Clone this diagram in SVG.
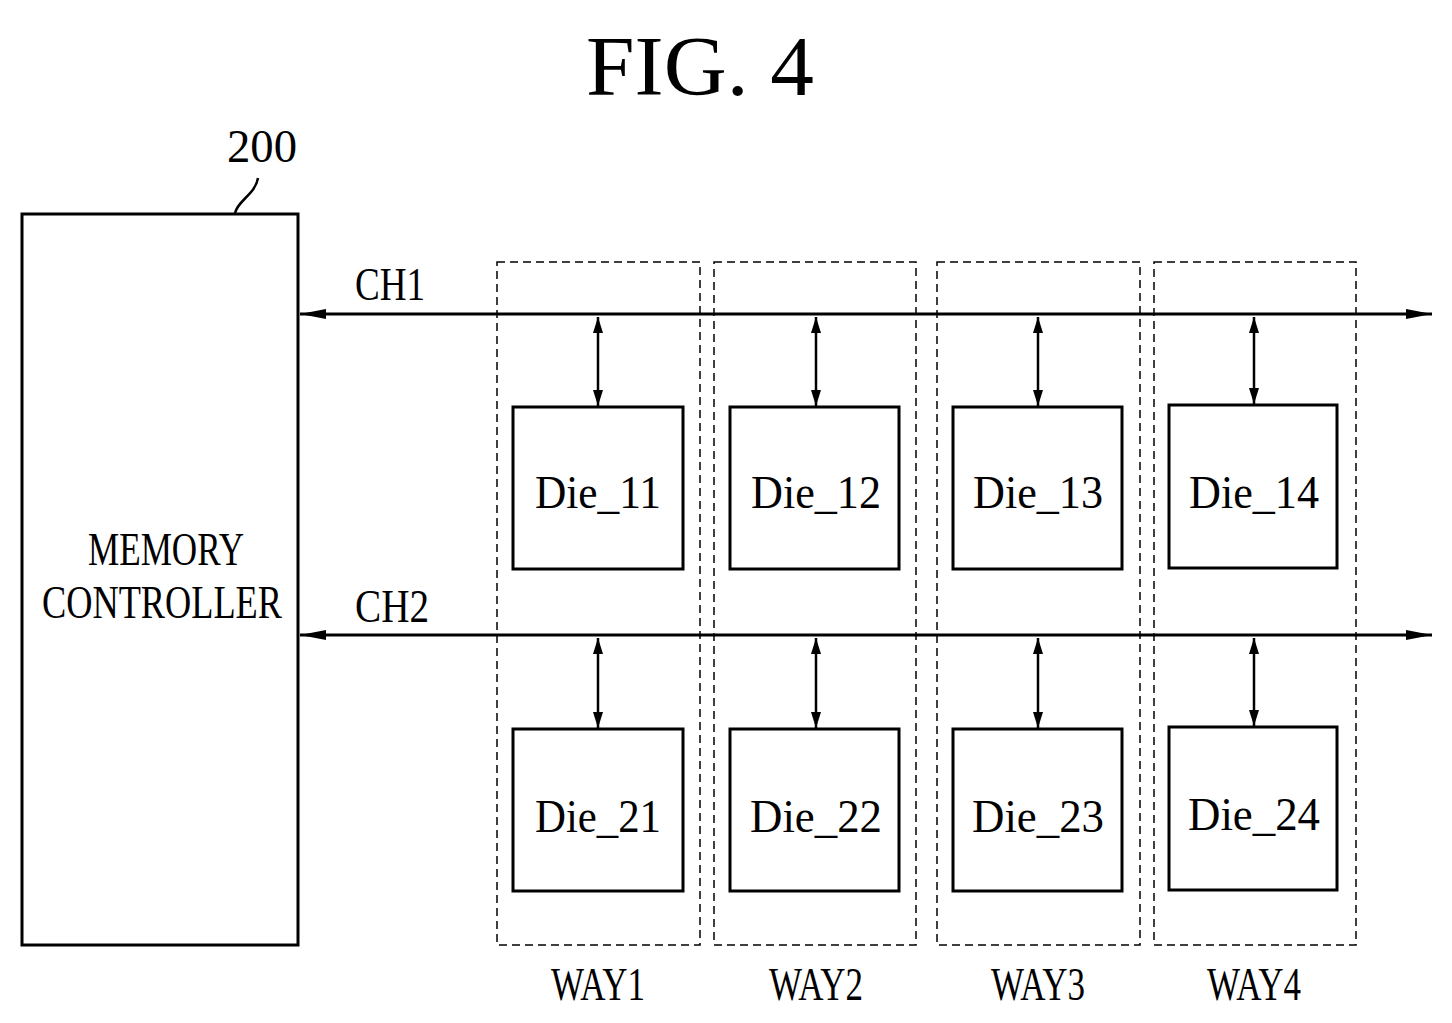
<svg xmlns="http://www.w3.org/2000/svg" width="1452" height="1023" viewBox="0 0 1452 1023">
<style>
.t{font-family:"Liberation Serif",serif;fill:#000}
.box{fill:none;stroke:#000;stroke-width:3}
.way{fill:none;stroke:#000;stroke-width:1.5;stroke-dasharray:8,5}
.ln{stroke:#000;stroke-width:3;fill:none}
.ar{stroke:#000;stroke-width:2.5;fill:none}
</style>
<defs>
<marker id="a" viewBox="0 0 16 10" refX="16" refY="5" markerWidth="16" markerHeight="10" markerUnits="userSpaceOnUse" orient="auto-start-reverse"><path d="M0,0L16,5L0,10z" fill="#000"/></marker>
<marker id="b" viewBox="0 0 26 10" refX="26" refY="5" markerWidth="26" markerHeight="10" markerUnits="userSpaceOnUse" orient="auto-start-reverse"><path d="M0,0L26,5L0,10z" fill="#000"/></marker>
</defs>
<rect width="1452" height="1023" fill="#fff"/>
<text class="t" x="700" y="95" font-size="84" text-anchor="middle" textLength="228" lengthAdjust="spacingAndGlyphs">FIG. 4</text>
<g id="controller">
<text class="t" x="262" y="162" font-size="46" text-anchor="middle" textLength="70" lengthAdjust="spacingAndGlyphs">200</text>
<path class="ar" d="M235,213 C238,200 255,195 258,178"/>
<rect class="box" x="22" y="214" width="276" height="731"/>
<text class="t" x="166" y="565" font-size="46" text-anchor="middle" textLength="156" lengthAdjust="spacingAndGlyphs">MEMORY</text>
<text class="t" x="162" y="618" font-size="46" text-anchor="middle" textLength="240" lengthAdjust="spacingAndGlyphs">CONTROLLER</text>
</g>
<g id="ways">
<rect class="way" x="497" y="262" width="203" height="683"/>
<rect class="way" x="714" y="262" width="202" height="683"/>
<rect class="way" x="937" y="262" width="203" height="683"/>
<rect class="way" x="1154" y="262" width="202" height="683"/>
<text class="t" x="598" y="1000" font-size="46" text-anchor="middle" textLength="94" lengthAdjust="spacingAndGlyphs">WAY1</text>
<text class="t" x="816" y="1000" font-size="46" text-anchor="middle" textLength="94" lengthAdjust="spacingAndGlyphs">WAY2</text>
<text class="t" x="1038" y="1000" font-size="46" text-anchor="middle" textLength="94" lengthAdjust="spacingAndGlyphs">WAY3</text>
<text class="t" x="1254" y="1000" font-size="46" text-anchor="middle" textLength="94" lengthAdjust="spacingAndGlyphs">WAY4</text>
</g>
<g id="dies">
<g id="die11"><rect class="box" x="513" y="407" width="170" height="162"/><text class="t" x="598" y="508" font-size="46" text-anchor="middle" textLength="126" lengthAdjust="spacingAndGlyphs">Die_11</text></g>
<g id="die12"><rect class="box" x="730" y="407" width="169" height="162"/><text class="t" x="816" y="508" font-size="46" text-anchor="middle" textLength="130" lengthAdjust="spacingAndGlyphs">Die_12</text></g>
<g id="die13"><rect class="box" x="953" y="407" width="169" height="162"/><text class="t" x="1038" y="508" font-size="46" text-anchor="middle" textLength="130" lengthAdjust="spacingAndGlyphs">Die_13</text></g>
<g id="die14"><rect class="box" x="1169" y="405" width="168" height="163"/><text class="t" x="1254" y="508" font-size="46" text-anchor="middle" textLength="130" lengthAdjust="spacingAndGlyphs">Die_14</text></g>
<g id="die21"><rect class="box" x="513" y="729" width="170" height="162"/><text class="t" x="598" y="832" font-size="46" text-anchor="middle" textLength="126" lengthAdjust="spacingAndGlyphs">Die_21</text></g>
<g id="die22"><rect class="box" x="730" y="729" width="169" height="162"/><text class="t" x="816" y="832" font-size="46" text-anchor="middle" textLength="132" lengthAdjust="spacingAndGlyphs">Die_22</text></g>
<g id="die23"><rect class="box" x="953" y="729" width="169" height="162"/><text class="t" x="1038" y="832" font-size="46" text-anchor="middle" textLength="132" lengthAdjust="spacingAndGlyphs">Die_23</text></g>
<g id="die24"><rect class="box" x="1169" y="727" width="168" height="163"/><text class="t" x="1254" y="830" font-size="46" text-anchor="middle" textLength="132" lengthAdjust="spacingAndGlyphs">Die_24</text></g>
</g>
<g id="connectors">
<text class="t" x="390" y="300" font-size="46" text-anchor="middle" textLength="70" lengthAdjust="spacingAndGlyphs">CH1</text>
<text class="t" x="392" y="622" font-size="46" text-anchor="middle" textLength="74" lengthAdjust="spacingAndGlyphs">CH2</text>
<line class="ln" x1="300" y1="314" x2="1432" y2="314" marker-start="url(#b)" marker-end="url(#b)"/>
<line class="ln" x1="300" y1="635" x2="1432" y2="635" marker-start="url(#b)" marker-end="url(#b)"/>
<line class="ar" x1="598" y1="317" x2="598" y2="406" marker-start="url(#a)" marker-end="url(#a)"/>
<line class="ar" x1="816" y1="317" x2="816" y2="406" marker-start="url(#a)" marker-end="url(#a)"/>
<line class="ar" x1="1038" y1="317" x2="1038" y2="406" marker-start="url(#a)" marker-end="url(#a)"/>
<line class="ar" x1="1254" y1="317" x2="1254" y2="404" marker-start="url(#a)" marker-end="url(#a)"/>
<line class="ar" x1="598" y1="638" x2="598" y2="728" marker-start="url(#a)" marker-end="url(#a)"/>
<line class="ar" x1="816" y1="638" x2="816" y2="728" marker-start="url(#a)" marker-end="url(#a)"/>
<line class="ar" x1="1038" y1="638" x2="1038" y2="728" marker-start="url(#a)" marker-end="url(#a)"/>
<line class="ar" x1="1254" y1="638" x2="1254" y2="726" marker-start="url(#a)" marker-end="url(#a)"/>
</g>
</svg>
